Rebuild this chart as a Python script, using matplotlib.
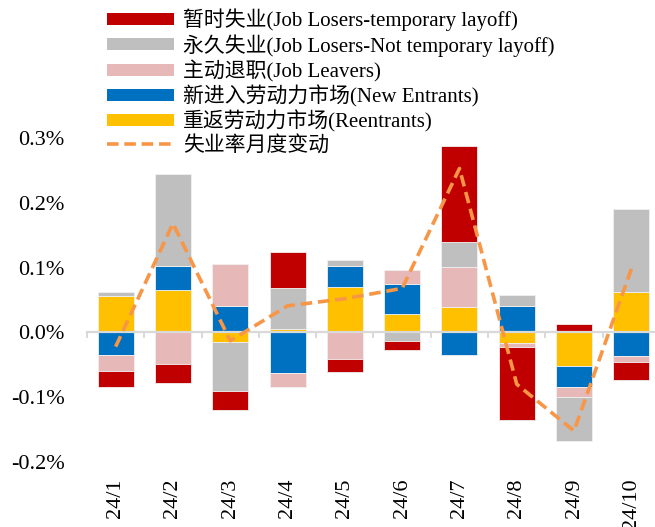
import numpy as np
import matplotlib
matplotlib.use("Agg")
import matplotlib.pyplot as plt
from matplotlib.patches import Patch
from matplotlib.lines import Line2D
from matplotlib.ticker import FuncFormatter

plt.rcParams["font.family"] = ["Liberation Serif", "Noto Sans CJK SC"]

months = ["24/1", "24/2", "24/3", "24/4", "24/5", "24/6", "24/7", "24/8", "24/9", "24/10"]

# contributions to the monthly change in unemployment rate, percentage points
reentrants = [0.056, 0.066, -0.015, 0.005, 0.070, 0.029, 0.039, -0.016, -0.052, 0.063]
new_entrants = [-0.035, 0.037, 0.040, -0.062, 0.032, 0.045, -0.035, 0.040, -0.032, -0.036]
job_leavers = [-0.024, -0.049, 0.066, -0.023, -0.041, 0.022, 0.062, -0.007, -0.016, -0.009]
not_temporary = [0.006, 0.142, -0.075, 0.064, 0.009, -0.014, 0.038, 0.017, -0.068, 0.128]
temporary = [-0.025, -0.029, -0.029, 0.055, -0.020, -0.013, 0.148, -0.112, 0.013, -0.028]
rate_change = [-0.022, 0.168, -0.013, 0.041, 0.052, 0.068, 0.253, -0.080, -0.152, 0.098]

# stacked from zero outward in this order
series = [
    (reentrants, "#FFC000", "重返劳动力市场(Reentrants)"),
    (new_entrants, "#0070C0", "新进入劳动力市场(New Entrants)"),
    (job_leavers, "#E6B9B8", "主动退职(Job Leavers)"),
    (not_temporary, "#BFBFBF", "永久失业(Job Losers-Not temporary layoff)"),
    (temporary, "#C00000", "暂时失业(Job Losers-temporary layoff)"),
]

fig = plt.figure(figsize=(6.55, 5.27), dpi=100)
ax = fig.add_axes([87 / 655, 65 / 527, 573 / 655, 324 / 527])

x = np.arange(len(months))
pos_base = np.zeros(len(months))
neg_base = np.zeros(len(months))
handles = {}
for vals, color, label in series:
    v = np.array(vals)
    base = np.where(v >= 0, pos_base, neg_base)
    ax.bar(x, v, 0.63, bottom=base, color=color, edgecolor="#f0f0f0", linewidth=0.6, zorder=2)
    pos_base += np.clip(v, 0, None)
    neg_base += np.clip(v, None, 0)
    handles[label] = Patch(facecolor=color, edgecolor="none")

ax.plot(x, rate_change, color="#F79646", lw=2.6, dashes=(3.2, 1.6), zorder=4)

ax.set_xlim(-0.5, len(months) - 0.5)
ax.set_ylim(-0.2, 0.3)
ax.set_yticks([-0.2, -0.1, 0.0, 0.1, 0.2, 0.3])
ax.yaxis.set_major_formatter(FuncFormatter(lambda v, p: f"{v:.1f}%"))
ax.tick_params(axis="y", length=0, pad=16, labelsize=16)

for side in ["left", "right", "top"]:
    ax.spines[side].set_visible(False)
ax.spines["bottom"].set_position(("data", 0))
ax.spines["bottom"].set_color("#d9d9d9")
ax.spines["bottom"].set_linewidth(1.6)
ax.spines["bottom"].set_zorder(3)
ax.set_xticks(np.arange(-0.5, len(months), 1.0))
ax.set_xticklabels([])
ax.tick_params(axis="x", length=4, width=1.4, color="#d9d9d9", direction="out")

for xi, m in zip(x, months):
    ax.text(xi, -0.05, m, transform=ax.get_xaxis_transform(), rotation=90,
            ha="center", va="top", fontsize=16)

order = [series[4][2], series[3][2], series[2][2], series[1][2], series[0][2]]
leg_handles = [handles[k] for k in order]
leg_handles.append(Line2D([], [], color="#F79646", lw=2.6, dashes=(3.2, 1.6)))
leg_labels = order + ["失业率月度变动"]
fig.legend(leg_handles, leg_labels, loc="upper left", bbox_to_anchor=(0.151, 1.0),
           frameon=False, fontsize=15, handlelength=3.2, handleheight=0.5,
           labelspacing=0.15, handletextpad=0.45, borderaxespad=0)

fig.savefig("out.png", dpi=100)
